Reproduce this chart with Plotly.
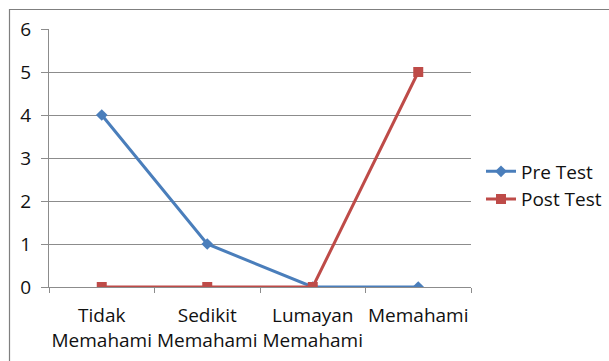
import plotly.graph_objects as go

categories = ["Tidak<br>Memahami", "Sedikit<br>Memahami", "Lumayan<br>Memahami", "Memahami"]
pre_test = [4, 1, 0, 0]
post_test = [0, 0, 0, 5]
y_ticks = [0, 1, 2, 3, 4, 5, 6]

W, H = 609, 361
ML, MR, MT, MB = 49, 138, 29, 74
pw = W - ML - MR
ph = H - MT - MB

font = dict(family="Open Sans", size=19, color="#111111")
grid = "#8c8c8c"

fig = go.Figure()
fig.add_trace(go.Scatter(
    x=categories, y=pre_test, name="Pre Test", mode="lines+markers",
    line=dict(color="#4a7ebb", width=3),
    marker=dict(symbol="diamond", size=9, color="#4a7ebb"),
))
fig.add_trace(go.Scatter(
    x=categories, y=post_test, name="Post Test", mode="lines+markers",
    line=dict(color="#be4b48", width=3),
    marker=dict(symbol="square", size=10, color="#be4b48"),
))

# outer chart frame
fig.add_shape(
    type="rect", xref="paper", yref="paper",
    x0=(9.5 - ML) / pw, x1=(W + 5 - ML) / pw,
    y0=-(H + 5 - MT - ph) / ph, y1=(ph + MT - 9.5) / ph,
    line=dict(color="#7f7f7f", width=1.2), layer="below",
)

fig.update_layout(
    width=W, height=H,
    margin=dict(l=ML, r=MR, t=MT, b=MB, autoexpand=False),
    paper_bgcolor="white", plot_bgcolor="white",
    font=font,
    showlegend=True,
    legend=dict(
        x=(481 - ML) / pw, y=(287 - 185.5) / ph, xanchor="left", yanchor="middle",
        font=font, bgcolor="rgba(0,0,0,0)", itemwidth=30, tracegroupgap=0,
    ),
    xaxis=dict(
        type="category", range=[-0.5, 3.5], tickson="boundaries",
        ticks="outside", ticklen=5, tickcolor=grid, tickangle=0,
        showline=True, linecolor=grid, linewidth=1, automargin=False,
        showgrid=False, zeroline=False, tickfont=font, ticklabelstandoff=11,
    ),
    yaxis=dict(
        range=[0, 6], tickvals=y_ticks, ticks="outside", ticklen=7,
        tickcolor=grid, showline=True, linecolor=grid, linewidth=1,
        showgrid=True, gridcolor=grid, gridwidth=1, zeroline=False,
        tickfont=font, ticklabelstandoff=6, automargin=False,
    ),
)

fig.write_html("out.html")
